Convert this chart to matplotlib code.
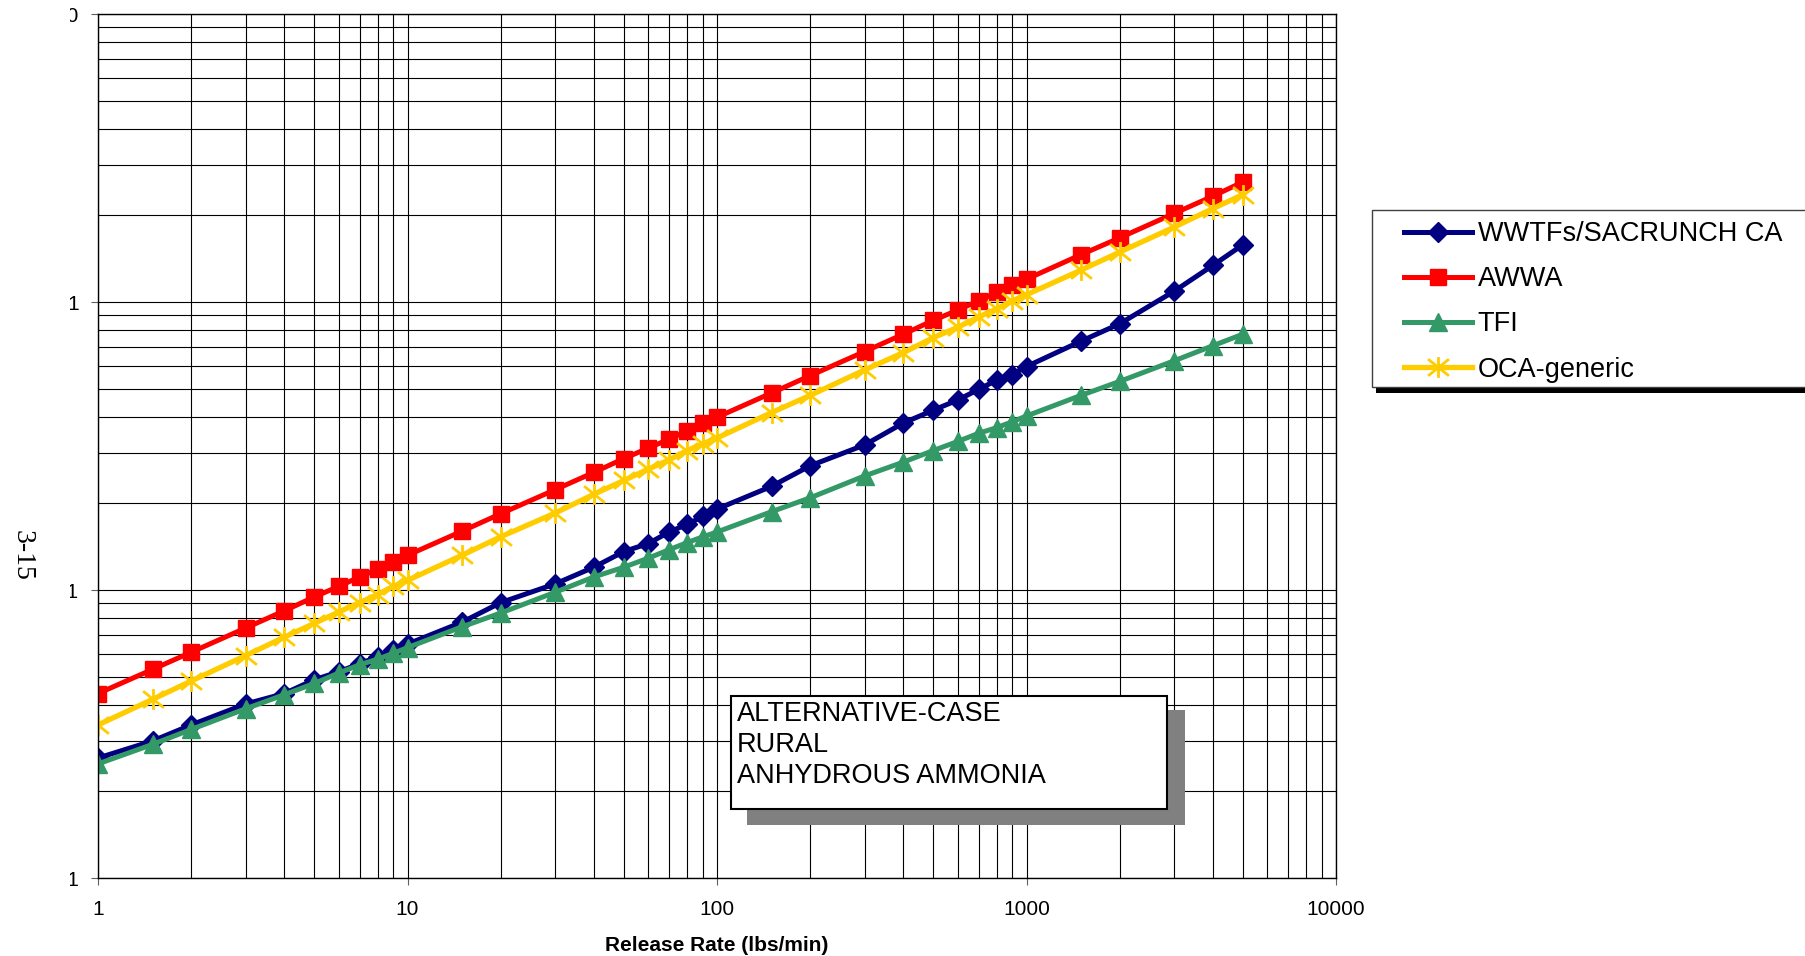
import matplotlib
matplotlib.use("Agg")
import matplotlib.pyplot as plt
from matplotlib.patches import Rectangle
from matplotlib.path import Path
from matplotlib.ticker import LogLocator, NullFormatter, FixedLocator, FixedFormatter
from matplotlib.transforms import Bbox, TransformedBbox

# Data ---------------------------------------------------------------------------
release_rate = [1, 1.5, 2, 3, 4, 5, 6, 7, 8, 9, 10, 15, 20, 30, 40, 50, 60, 70, 80, 90,
                100, 150, 200, 300, 400, 500, 600, 700, 800, 900, 1000, 1500, 2000, 3000,
                4000, 5000]

wwtfs = [0.0261, 0.0299, 0.0340, 0.0402, 0.0437, 0.0488, 0.0520, 0.0555, 0.0586, 0.0619,
         0.0649, 0.0773, 0.0904, 0.105, 0.120, 0.136, 0.145, 0.159, 0.169, 0.180,
         0.191, 0.229, 0.270, 0.319, 0.380, 0.421, 0.457, 0.497, 0.535, 0.560,
         0.597, 0.731, 0.840, 1.09, 1.34, 1.58]

awwa = [0.0437, 0.0530, 0.0608, 0.0738, 0.0847, 0.0946, 0.103, 0.111, 0.118, 0.125,
        0.132, 0.160, 0.184, 0.223, 0.256, 0.286, 0.311, 0.334, 0.357, 0.380,
        0.398, 0.483, 0.555, 0.673, 0.773, 0.863, 0.938, 1.01, 1.08, 1.15,
        1.20, 1.46, 1.67, 2.03, 2.33, 2.61]

tfi = [0.0249, 0.0291, 0.0328, 0.0387, 0.0433, 0.0474, 0.0515, 0.0550, 0.0575, 0.0603,
       0.0631, 0.0745, 0.0832, 0.0982, 0.111, 0.120, 0.129, 0.138, 0.146, 0.153,
       0.159, 0.187, 0.209, 0.249, 0.278, 0.305, 0.328, 0.350, 0.366, 0.384,
       0.402, 0.474, 0.530, 0.625, 0.705, 0.773]

oca_generic = [0.0340, 0.0417, 0.0483, 0.0592, 0.0686, 0.0766, 0.0839, 0.0904, 0.0964, 0.103,
               0.108, 0.132, 0.153, 0.185, 0.215, 0.240, 0.263, 0.283, 0.305, 0.322,
               0.337, 0.413, 0.474, 0.581, 0.667, 0.752, 0.817, 0.887, 0.946, 1.01,
               1.06, 1.29, 1.49, 1.82, 2.11, 2.36]

series_names = ["WWTFs/SACRUNCH CA", "AWWA", "TFI", "OCA-generic"]
x_ticks = [1, 10, 100, 1000, 10000]
x_tick_labels = ["1", "10", "100", "1000", "10000"]
y_ticks = [0.01, 0.1, 1, 10]
y_tick_labels = ["0.01", "0.1", "1", "10"]
box_lines = ["ALTERNATIVE-CASE", "RURAL", "ANHYDROUS AMMONIA"]

# Figure -------------------------------------------------------------------------
W, H = 1805, 956
plt.rcParams['font.family'] = ['Liberation Sans', 'DejaVu Sans']


def fx(px):
    return px / W


def fy(py):
    return 1 - py / H


fig = plt.figure(figsize=(W / 100, H / 100), dpi=100)
ax = fig.add_axes([fx(98), fy(878), fx(1336) - fx(98), fy(14) - fy(878)])

# asterisk marker like the spreadsheet "star"
star = Path([(-1, -0.8), (1, 0.8), (-1, 0.8), (1, -0.8), (0, -1), (0, 1)],
            [Path.MOVETO, Path.LINETO, Path.MOVETO, Path.LINETO, Path.MOVETO, Path.LINETO])

ax.plot(release_rate, wwtfs, color='#000080', lw=3.6, marker='D', ms=10,
        label=series_names[0])
ax.plot(release_rate, awwa, color='#FF0000', lw=3.6, marker='s', ms=11.5,
        label=series_names[1])
ax.plot(release_rate, tfi, color='#339966', lw=3.6, marker='^', ms=12.5,
        label=series_names[2])
ax.plot(release_rate, oca_generic, color='#FFCC00', lw=3.8, marker=star, ms=15,
        mew=2, mec='#FFCC00', label=series_names[3])

ax.set_xscale('log')
ax.set_yscale('log')
ax.set_xlim(1, 10000)
ax.set_ylim(0.01, 10)

ax.xaxis.set_major_locator(FixedLocator(x_ticks))
ax.xaxis.set_major_formatter(FixedFormatter(x_tick_labels))
ax.yaxis.set_major_locator(FixedLocator(y_ticks))
ax.yaxis.set_major_formatter(FixedFormatter(y_tick_labels))
for axis in (ax.xaxis, ax.yaxis):
    axis.set_minor_locator(LogLocator(base=10, subs=range(2, 10), numticks=20))
    axis.set_minor_formatter(NullFormatter())

ax.grid(True, which='both', color='black', lw=0.8)
ax.set_axisbelow(True)
ax.tick_params(which='major', direction='out', length=5, width=0.8, color='#606060',
               labelsize=15)
ax.tick_params(axis='x', pad=11)
ax.tick_params(axis='y', pad=9)
ax.tick_params(which='minor', length=0)
for s in ax.spines.values():
    s.set_color('black')
    s.set_linewidth(1)

ax.set_xlabel('Release Rate (lbs/min)', fontsize=15, fontweight='bold')
ax.xaxis.set_label_coords(fx(717), fy(936), transform=fig.transFigure)

# the y labels are cut off at the left edge of the chart object
clip = TransformedBbox(Bbox([[fx(70), 0], [1, 1]]), fig.transFigure)
fig.canvas.draw()
for t in ax.yaxis.get_major_ticks():
    t.label1.set_clip_on(True)
    t.label1.set_clip_box(clip)

# Legend with shadow ---------------------------------------------------------------
fig.add_artist(Rectangle((fx(1376), fy(393)), fx(1840) - fx(1376), fy(387) - fy(393),
                         transform=fig.transFigure, facecolor='black', edgecolor='none'))
fig.add_artist(Rectangle((fx(1372), fy(387)), fx(1840) - fx(1372), fy(210) - fy(387),
                         transform=fig.transFigure, facecolor='white', edgecolor='#404040',
                         lw=1))
handles, labels = ax.get_legend_handles_labels()
fig.legend(handles, labels, loc='upper left', bbox_to_anchor=(fx(1404), fy(221)),
           frameon=False, fontsize=19.5, handlelength=2.5, handletextpad=0.22,
           labelspacing=0.71, borderpad=0, borderaxespad=0, numpoints=1)

# Text box with shadow -------------------------------------------------------------
fig.add_artist(Rectangle((fx(747), fy(825)), fx(1185) - fx(747), fy(710) - fy(825),
                         transform=fig.transFigure, facecolor='#808080', edgecolor='none'))
fig.add_artist(Rectangle((fx(731), fy(809)), fx(1167) - fx(731), fy(696) - fy(809),
                         transform=fig.transFigure, facecolor='white', edgecolor='black',
                         lw=1.5))
for i, line in enumerate(box_lines):
    fig.text(fx(737), fy(721 + 31 * i), line, fontsize=19.5, va='baseline', ha='left')

# page number
fig.text(fx(22), fy(555), "3-15", rotation=-90, fontsize=20, family='Liberation Serif',
         ha='center', va='center')

fig.savefig('out.png', dpi=100)
